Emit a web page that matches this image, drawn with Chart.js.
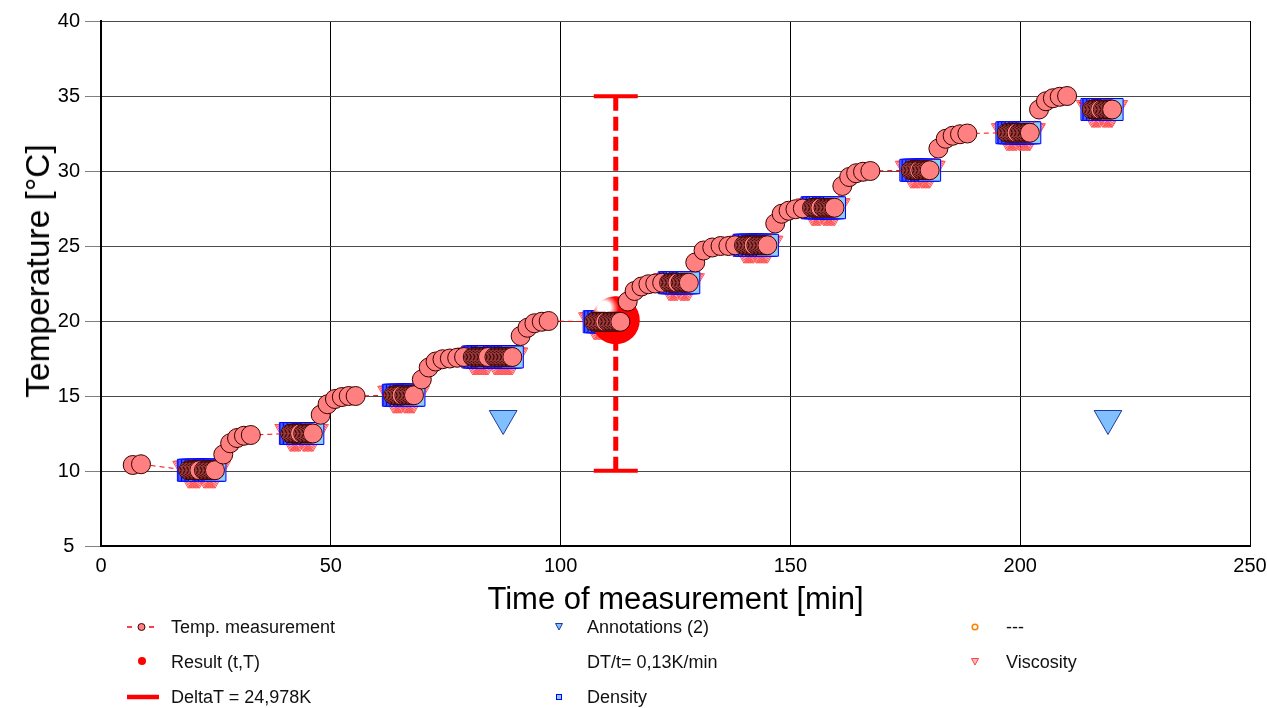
<!DOCTYPE html>
<html>
<head>
<meta charset="utf-8">
<title>Temperature ramp</title>
<script src="https://cdn.jsdelivr.net/npm/chart.js@4.4.1/dist/chart.umd.min.js"></script>
<style>
  html, body { margin: 0; padding: 0; background: #fff; }
  #wrap { position: relative; width: 1267px; height: 708px; overflow: hidden;
          font-family: "Liberation Sans", Arial, sans-serif; color: #111; }
  #c { position: absolute; left: 0; top: 0; }
  .ytitle { position: absolute; left: 38px; top: 271px; font-size: 33.5px; white-space: nowrap;
            transform: translate(-50%, -50%) rotate(-90deg); color: #000; }
  .leg { position: absolute; font-size: 18px; line-height: 22px; white-space: nowrap;
         transform: translateY(-50%); }
  .mk { position: absolute; overflow: visible; }
</style>
</head>
<body>
<div id="wrap">
  <canvas id="c" width="1267" height="708"></canvas>
  <div class="ytitle">Temperature [°C]</div>
  <div id="legend"></div>
</div>
<script>
// Axis ticks
const xTicks = [0, 50, 100, 150, 200, 250];
const yTicks = [5, 10, 15, 20, 25, 30, 35, 40];

// First readings before the first hold
const leadTimes = [6.9, 8.7];
const leadTemps = [10.4, 10.45];

// Hold periods: temperature level and the dense readings taken during each hold
const holdLevels = [10.05, 12.5, 15.05, 17.6, 19.95, 22.55, 25.05, 27.55, 30.05, 32.55, 34.1];
const holdTimes = [
  [19.0, 19.3, 19.6, 19.9, 20.2, 20.5, 20.8, 21.1, 21.4, 22.4, 22.7, 23.0, 23.3, 23.6, 23.9, 24.2, 24.5, 24.8],
  [41.2, 41.5, 41.8, 42.1, 42.4, 42.7, 43.0, 43.3, 44.0, 44.3, 44.6, 44.9, 45.2, 45.5, 45.8, 46.1],
  [63.6, 63.9, 64.2, 64.5, 64.8, 65.1, 65.4, 66.0, 66.3, 66.6, 66.9, 67.2, 67.5, 67.8, 68.1],
  [80.9, 81.2, 81.5, 81.8, 82.1, 82.4, 82.7, 83.0, 83.3, 83.6, 83.9, 84.2, 85.6, 85.9, 86.2, 86.5, 86.8, 87.1, 87.4, 87.7, 88.0, 88.3, 88.6, 88.9, 89.2, 89.5],
  [107.3, 107.6, 107.9, 108.2, 108.5, 108.8, 109.1, 109.4, 109.7, 110.3, 110.6, 110.9, 111.2, 111.5, 111.8, 112.1, 112.4, 112.7, 113.0],
  [123.6, 123.9, 124.2, 124.5, 124.8, 125.1, 125.4, 126.1, 126.4, 126.7, 127.0, 127.3, 127.6, 127.9],
  [139.9, 140.2, 140.5, 140.8, 141.1, 141.4, 141.7, 142.0, 142.6, 142.9, 143.2, 143.5, 143.8, 144.1, 144.4, 144.7, 145.0],
  [154.7, 155.0, 155.3, 155.6, 155.9, 156.2, 156.5, 157.2, 157.5, 157.8, 158.1, 158.4, 158.7, 159.0, 159.3, 159.6],
  [176.2, 176.5, 176.8, 177.1, 177.4, 177.7, 178.0, 178.5, 178.8, 179.1, 179.4, 179.7, 180.0, 180.3],
  [197.1, 197.4, 197.7, 198.0, 198.3, 198.6, 198.9, 199.2, 199.8, 200.1, 200.4, 200.7, 201.0, 201.3, 201.6, 201.9, 202.1],
  [215.6, 215.9, 216.2, 216.5, 216.8, 217.1, 217.4, 218.0, 218.3, 218.6, 218.9, 219.2, 219.5, 219.8, 220.0]
];

// Ramps between consecutive holds
const rampTimes = [
  [26.6, 28.1, 29.6, 31.1, 32.6],
  [47.8, 49.3, 50.9, 52.4, 53.9, 55.4],
  [69.8, 71.3, 72.8, 74.3, 75.9, 77.5, 79.0],
  [91.3, 92.8, 94.3, 95.9, 97.4],
  [114.6, 116.1, 117.6, 119.1, 120.6, 122.1],
  [129.3, 131.1, 133.0, 134.8, 136.5, 138.0],
  [146.7, 148.1, 149.6, 151.1, 152.7],
  [161.3, 162.8, 164.3, 165.8, 167.4],
  [182.2, 183.8, 185.3, 186.9, 188.5],
  [204.1, 205.6, 207.1, 208.6, 210.2]
];
const rampTemps = [
  [11.1, 11.85, 12.2, 12.35, 12.4],
  [13.75, 14.45, 14.8, 14.93, 15.0, 15.0],
  [16.1, 16.9, 17.3, 17.45, 17.5, 17.55, 17.6],
  [19.0, 19.55, 19.85, 19.95, 20.0],
  [21.3, 22.0, 22.3, 22.45, 22.5, 22.55],
  [23.9, 24.7, 24.9, 25.0, 25.0, 25.05],
  [26.5, 27.15, 27.35, 27.45, 27.5],
  [29.0, 29.6, 29.85, 29.95, 30.0],
  [31.5, 32.15, 32.35, 32.45, 32.5],
  [34.1, 34.65, 34.85, 34.95, 35.0]
];

// Evaluated result and temperature span
const resultTime = 112.0;
const resultTemp = 20.05;
const deltaLow = 10.011;
const deltaT = 24.978;
const rateText = 'DT/t= 0,13K/min';

// Annotation markers
const annoTimes = [87.5, 219.1];
const annoTemps = [13.5, 13.5];

// ---- build point tables ----
const tempPoints = [];
leadTimes.forEach((t, i) => tempPoints.push({ x: t, y: leadTemps[i] }));
const holdPoints = [];
holdTimes.forEach((times, h) => {
  times.forEach(t => {
    tempPoints.push({ x: t, y: holdLevels[h] });
    holdPoints.push({ x: t, y: holdLevels[h] });
  });
  if (rampTimes[h]) rampTimes[h].forEach((t, i) => tempPoints.push({ x: t, y: rampTemps[h][i] }));
});
const resultPoints = [{ x: resultTime, y: resultTemp }];
const deltaPoints = [{ x: resultTime, y: deltaLow }, { x: resultTime, y: deltaLow + deltaT }];
const annoPoints = annoTimes.map((t, i) => ({ x: t, y: annoTemps[i] }));

// shaded red ball for the result marker, lit from the upper left
function ballFill(ctx) {
  const chart = ctx.chart;
  const xs = chart.scales && chart.scales.x, ys = chart.scales && chart.scales.y;
  if (!xs || !ys || !ctx.raw) return '#ff0000';
  const cx = xs.getPixelForValue(ctx.raw.x), cy = ys.getPixelForValue(ctx.raw.y);
  if (!isFinite(cx) || !isFinite(cy)) return '#ff0000';
  const g = chart.ctx.createRadialGradient(cx - 12, cy - 13, 0, cx - 11, cy - 12, 14);
  g.addColorStop(0, '#ffffff');
  g.addColorStop(0.45, '#ffffff');
  g.addColorStop(0.75, '#ff7070');
  g.addColorStop(1, '#ff0000');
  return g;
}

Chart.defaults.font.family = "'Liberation Sans', Arial, sans-serif";
Chart.defaults.color = '#000';

// ---- legend ----
const legendItems = [
  { x: 171, y: 627, text: 'Temp. measurement',
    svg: '<svg class="mk" style="left:124px;top:619px" width="34" height="16"><line x1="3" y1="8" x2="8" y2="8" stroke="#ff0000" stroke-width="1.5"/><line x1="25" y1="8" x2="30" y2="8" stroke="#ff0000" stroke-width="1.5"/><circle cx="17.5" cy="8" r="3.5" fill="#ff8080" stroke="#400000" stroke-width="1"/></svg>' },
  { x: 171, y: 662, text: 'Result (t,T)',
    svg: '<svg class="mk" style="left:134px;top:653px" width="16" height="16"><circle cx="8" cy="8" r="4" fill="#ff0000"/></svg>' },
  { x: 171, y: 697, text: 'DeltaT = ' + deltaT.toFixed(3).replace('.', ',') + 'K',
    svg: '<svg class="mk" style="left:124px;top:689px" width="40" height="16"><line x1="3" y1="8" x2="35" y2="8" stroke="#ff0000" stroke-width="4.5"/></svg>' },
  { x: 587, y: 627, text: 'Annotations (' + annoPoints.length + ')',
    svg: '<svg class="mk" style="left:551px;top:619px" width="16" height="16"><polygon points="4.5,4.5 11.5,4.5 8,11" fill="#80c0ff" stroke="#1c3ca0" stroke-width="1"/></svg>' },
  { x: 587, y: 662, text: rateText, svg: '' },
  { x: 587, y: 697, text: 'Density',
    svg: '<svg class="mk" style="left:551px;top:689px" width="16" height="16"><rect x="5.5" y="5.5" width="5" height="5" fill="#8ccff8" stroke="#0000ff" stroke-width="1"/></svg>' },
  { x: 1006, y: 627, text: '---',
    svg: '<svg class="mk" style="left:967px;top:619px" width="16" height="16"><circle cx="8" cy="8" r="2.8" fill="#fff" stroke="#ff8000" stroke-width="1.5"/></svg>' },
  { x: 1006, y: 662, text: 'Viscosity',
    svg: '<svg class="mk" style="left:967px;top:654px" width="16" height="16"><polygon points="4.5,4.5 11.5,4.5 8,11" fill="#ffc0c0" stroke="#ff4040" stroke-width="1"/></svg>' }
];
const legend = document.getElementById('legend');
legendItems.forEach(it => {
  legend.insertAdjacentHTML('beforeend', it.svg);
  const d = document.createElement('div');
  d.className = 'leg';
  d.style.left = it.x + 'px';
  d.style.top = it.y + 'px';
  d.textContent = it.text;
  legend.appendChild(d);
});

new Chart(document.getElementById('c'), {
  type: 'scatter',
  data: {
    datasets: [
      { label: 'Temp. measurement', data: tempPoints, showLine: true,
        borderColor: '#ff0000', borderWidth: 1, borderDash: [5, 4],
        pointRadius: 9.5, pointBackgroundColor: '#ff8080', pointBorderColor: '#3c0000',
        pointBorderWidth: 1, order: 0 },
      { label: 'Result (t,T)', data: resultPoints, pointRadius: 24, pointBorderWidth: 0,
        pointBackgroundColor: ballFill, order: 1 },
      { label: 'DeltaT', data: deltaPoints, showLine: true, borderColor: '#ff0000',
        borderWidth: 5, borderDash: [14, 6], pointStyle: 'line', pointRadius: 22,
        pointBorderColor: '#ff0000', pointBorderWidth: 4, order: 2 },
      { label: 'Density', data: holdPoints, pointStyle: 'rect', pointRadius: 15.5,
        pointBackgroundColor: '#8ccff8', pointBorderColor: '#0000ff', pointBorderWidth: 1, order: 3 },
      { label: 'Viscosity', data: holdPoints, pointStyle: 'triangle', pointRotation: 180,
        pointRadius: 18, pointBackgroundColor: 'rgba(255,255,255,0)', pointBorderColor: '#ff5050',
        pointBorderWidth: 1, order: 4 },
      { label: 'Annotations (' + annoPoints.length + ')', data: annoPoints, pointStyle: 'triangle',
        pointRotation: 180, pointRadius: 16, pointBackgroundColor: '#80c0ff',
        pointBorderColor: '#1c3ca0', pointBorderWidth: 1, order: 0 }
    ]
  },
  options: {
    responsive: false,
    animation: false,
    events: [],
    layout: { autoPadding: false, padding: { left: 0, top: 21, right: 17, bottom: 89 } },
    plugins: { legend: { display: false }, tooltip: { enabled: false } },
    scales: {
      x: {
        type: 'linear', min: 0, max: 250,
        afterBuildTicks: s => { s.ticks = xTicks.map(v => ({ value: v })); },
        afterFit: s => { s.height = 73; s.paddingLeft = 0; s.paddingRight = 0; },
        grid: { color: '#000', lineWidth: 1, drawTicks: false, tickLength: 0 },
        border: { color: '#000', width: 2 },
        ticks: { font: { size: 20 }, padding: 8, color: '#000', maxRotation: 0 },
        title: { display: true, text: 'Time of measurement [min]', font: { size: 31 },
                 color: '#000', padding: { top: 0, bottom: 0 } }
      },
      y: {
        type: 'linear', min: 5, max: 40,
        afterBuildTicks: s => { s.ticks = yTicks.map(v => ({ value: v })); },
        afterFit: s => { s.width = 101; s.paddingTop = 0; s.paddingBottom = 0; },
        grid: { color: '#4a4a4a', lineWidth: 1, tickLength: 16, tickColor: '#808080' },
        border: { color: '#000', width: 2 },
        ticks: { font: { size: 20 }, padding: 5, crossAlign: 'center', color: '#000' }
      }
    }
  }
});
</script>
</body>
</html>
